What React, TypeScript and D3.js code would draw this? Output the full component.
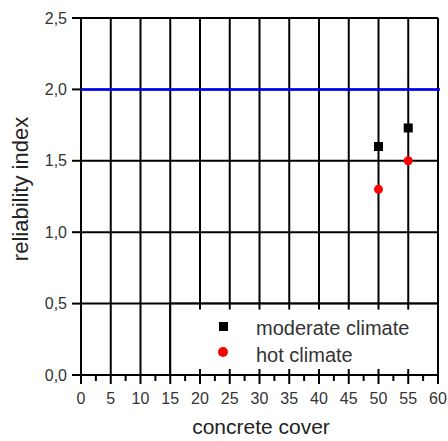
import React from 'react';
import * as d3 from 'd3';

// values
const coverTicks = [0, 5, 10, 15, 20, 25, 30, 35, 40, 45, 50, 55, 60];
const indexTicks = [0, 0.5, 1.0, 1.5, 2.0, 2.5];
const moderateCover = [50, 55];
const moderateIndex = [1.6, 1.73];
const hotCover = [50, 55];
const hotIndex = [1.3, 1.5];
const targetIndex = 2.0;
const legendLabels = ['moderate climate', 'hot climate'];

const W = 448;
const H = 441;
const M = { top: 18, right: 10, bottom: 66, left: 81 };

export default function App() {
  const x = d3.scaleLinear().domain([0, 60]).range([M.left, W - M.right]);
  const y = d3.scaleLinear().domain([0, 2.5]).range([H - M.bottom, M.top]);
  const fmt = (v: number) => d3.format('.1f')(v).replace('.', ',');
  const minor = d3.range(2.5, 60, 5);

  const moderate = moderateCover.map((c, i) => ({ c, v: moderateIndex[i] }));
  const hot = hotCover.map((c, i) => ({ c, v: hotIndex[i] }));

  const font = 'Liberation Sans, Arial, sans-serif';
  const grey = '#333';
  const y0 = y(0);

  return (
    <svg width={W} height={H} style={{ position: 'absolute', left: 0, top: 0, background: '#fff' }}>
      {/* vertical grid */}
      {coverTicks.map(t => (
        <line key={'vg' + t} x1={x(t)} x2={x(t)} y1={y(2.5)} y2={y0} stroke="#000" strokeWidth={2} />
      ))}
      {/* horizontal grid */}
      {indexTicks.map(t => (
        <line key={'hg' + t} x1={x(0)} x2={x(60)} y1={y(t)} y2={y(t)} stroke="#000" strokeWidth={2} />
      ))}

      {/* legend box covering the grid */}
      <rect x={x(15)} y={y(0.5)} width={x(60) - x(15)} height={y0 - y(0.5)} fill="#fff" stroke="#000" strokeWidth={2} />
      {coverTicks.filter(t => t > 15 && t < 60).map(t => (
        <g key={'lt' + t}>
          <line x1={x(t)} x2={x(t)} y1={y(0.5)} y2={y(0.5) + 6} stroke="#000" strokeWidth={2} />
          <line x1={x(t)} x2={x(t)} y1={y0} y2={y0 - 6} stroke="#000" strokeWidth={2} />
        </g>
      ))}

      {/* target line */}
      <line x1={x(0)} x2={x(60) + 2} y1={y(targetIndex)} y2={y(targetIndex)} stroke="#0000ff" strokeWidth={2.5} />

      {/* y axis */}
      {indexTicks.map(t => (
        <g key={'yt' + t}>
          <line x1={x(0) - 9} x2={x(0)} y1={y(t)} y2={y(t)} stroke="#000" strokeWidth={2} />
          <text x={x(0) - 14} y={y(t)} dy="0.35em" textAnchor="end" fontFamily={font} fontSize={16} fill={grey}>
            {fmt(t)}
          </text>
        </g>
      ))}

      {/* x axis */}
      {coverTicks.map(t => (
        <g key={'xt' + t}>
          <line x1={x(t)} x2={x(t)} y1={y0} y2={y0 + 9} stroke="#000" strokeWidth={2} />
          <text x={x(t)} y={y0 + 29} textAnchor="middle" fontFamily={font} fontSize={16} fill={grey}>
            {t}
          </text>
        </g>
      ))}
      {minor.map(t => (
        <line key={'mt' + t} x1={x(t)} x2={x(t)} y1={y0} y2={y0 + 6} stroke="#000" strokeWidth={2} />
      ))}

      {/* data */}
      {moderate.map(d => (
        <rect key={'m' + d.c} x={x(d.c) - 4.5} y={y(d.v) - 4.5} width={9} height={9} fill="#000" />
      ))}
      {hot.map(d => (
        <circle key={'h' + d.c} cx={x(d.c)} cy={y(d.v)} r={4.5} fill="#ff0000" />
      ))}

      {/* legend */}
      <rect x={219} y={322} width={9} height={9} fill="#000" />
      <circle cx={223} cy={352} r={5} fill="#ff0000" />
      <text x={256} y={335} fontFamily={font} fontSize={20} fill={grey}>{legendLabels[0]}</text>
      <text x={256} y={362} fontFamily={font} fontSize={20} fill={grey}>{legendLabels[1]}</text>

      {/* axis titles */}
      <text x={261} y={434} textAnchor="middle" fontFamily={font} fontSize={21} fill="#222">concrete cover</text>
      <text transform={`translate(28,189) rotate(-90)`} textAnchor="middle" fontFamily={font} fontSize={22} fill="#222">
        reliability index
      </text>
    </svg>
  );
}
